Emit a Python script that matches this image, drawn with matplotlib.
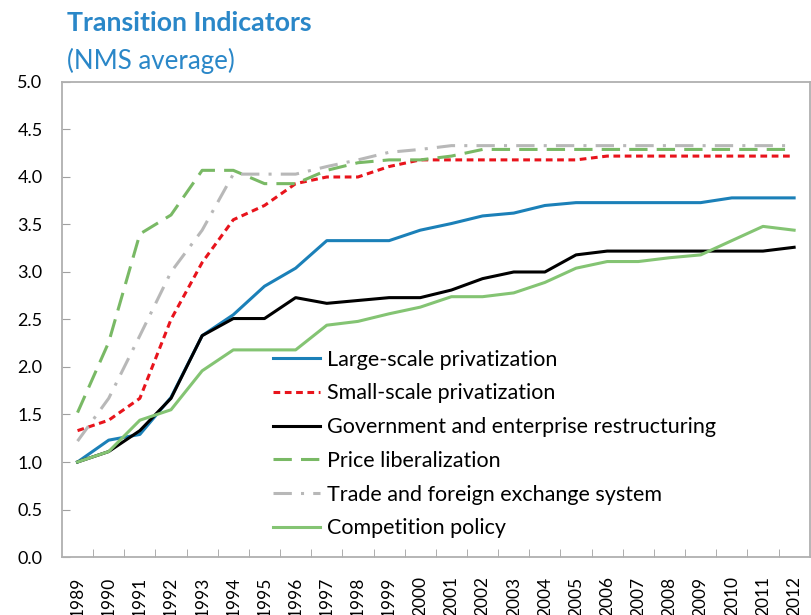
import matplotlib
matplotlib.use('Agg')
import matplotlib.pyplot as plt

years = [str(y) for y in range(1989, 2013)]

large_scale = [1.00, 1.23, 1.29, 1.68, 2.33, 2.55, 2.85, 3.04, 3.33, 3.33, 3.33, 3.44,
               3.51, 3.59, 3.62, 3.70, 3.73, 3.73, 3.73, 3.73, 3.73, 3.78, 3.78, 3.78]
small_scale = [1.33, 1.44, 1.67, 2.50, 3.10, 3.55, 3.70, 3.93, 4.00, 4.00, 4.11, 4.18,
               4.18, 4.18, 4.18, 4.18, 4.18, 4.22, 4.22, 4.22, 4.22, 4.22, 4.22, 4.22]
government = [1.00, 1.11, 1.33, 1.67, 2.33, 2.51, 2.51, 2.73, 2.67, 2.70, 2.73, 2.73,
              2.81, 2.93, 3.00, 3.00, 3.18, 3.22, 3.22, 3.22, 3.22, 3.22, 3.22, 3.26]
price_lib = [1.52, 2.26, 3.40, 3.60, 4.07, 4.07, 3.93, 3.93, 4.07, 4.15, 4.18, 4.18,
             4.22, 4.29, 4.29, 4.29, 4.29, 4.29, 4.29, 4.29, 4.29, 4.29, 4.29, 4.29]
trade_fx = [1.22, 1.67, 2.33, 3.00, 3.44, 4.03, 4.03, 4.03, 4.11, 4.18, 4.26, 4.29,
            4.33, 4.33, 4.33, 4.33, 4.33, 4.33, 4.33, 4.33, 4.33, 4.33, 4.33, 4.33]
competition = [1.00, 1.11, 1.44, 1.55, 1.96, 2.18, 2.18, 2.18, 2.44, 2.48, 2.56, 2.63,
               2.74, 2.74, 2.78, 2.89, 3.04, 3.11, 3.11, 3.15, 3.18, 3.33, 3.48, 3.44]

labels = ['Large-scale privatization', 'Small-scale privatization',
          'Government and enterprise restructuring', 'Price liberalization',
          'Trade and foreign exchange system', 'Competition policy']

plt.rcParams['font.family'] = ['Lato', 'DejaVu Sans']

fig = plt.figure(figsize=(8.11, 6.15), dpi=100)
ax = fig.add_axes([0.0764, 0.0943, 0.922, 0.7724])

x = list(range(len(years)))
ax.plot(x, large_scale, color='#1b80b8', lw=2.2, label=labels[0])
ax.plot(x, small_scale, color='#e8141c', lw=2.2, linestyle=(0, (2.2, 1.5)), label=labels[1])
ax.plot(x, government, color='black', lw=2.2, label=labels[2])
ax.plot(x, price_lib, color='#79b965', lw=2.2, linestyle=(0, (6, 3)), label=labels[3])
ax.plot(x, trade_fx, color='#b8b8b8', lw=2.2, linestyle=(0, (6, 3, 1, 3)), label=labels[4])
ax.plot(x, competition, color='#84c473', lw=2.2, label=labels[5])

ax.set_xlim(-0.5, len(years) - 0.5)
ax.set_ylim(0, 5)
ax.set_yticks([i * 0.5 for i in range(11)])
ax.set_yticklabels([f'{i * 0.5:.1f}' for i in range(11)], fontsize=13)
ax.set_xticks(x)
ax.set_xticklabels(years, rotation=90, fontsize=12.5)
ax.tick_params(axis='x', length=0, pad=14)
ax.set_xticks([i + 0.5 for i in range(len(years) - 1)], minor=True)
ax.tick_params(axis='x', which='minor', direction='in', length=6, color='#a0a0a0')
ax.tick_params(axis='y', direction='in', length=6, color='#a0a0a0', pad=14)
for s in ax.spines.values():
    s.set_color('#b0b0b0')
    s.set_linewidth(1.3)

ax.legend(loc='lower left', bbox_to_anchor=(0.282, 0.039), frameon=False, fontsize=15.5,
          handlelength=2.2, handletextpad=0.3, labelspacing=0.64,
          borderpad=0, borderaxespad=0)

fig.text(67 / 811, 1 - 31 / 615, 'Transition Indicators', color='#2a87c8',
         fontsize=19.3, fontweight='bold')
fig.text(67 / 811, 1 - 69 / 615, '(NMS average)', color='#2a87c8', fontsize=18.6)

fig.savefig('out.png', dpi=100)
